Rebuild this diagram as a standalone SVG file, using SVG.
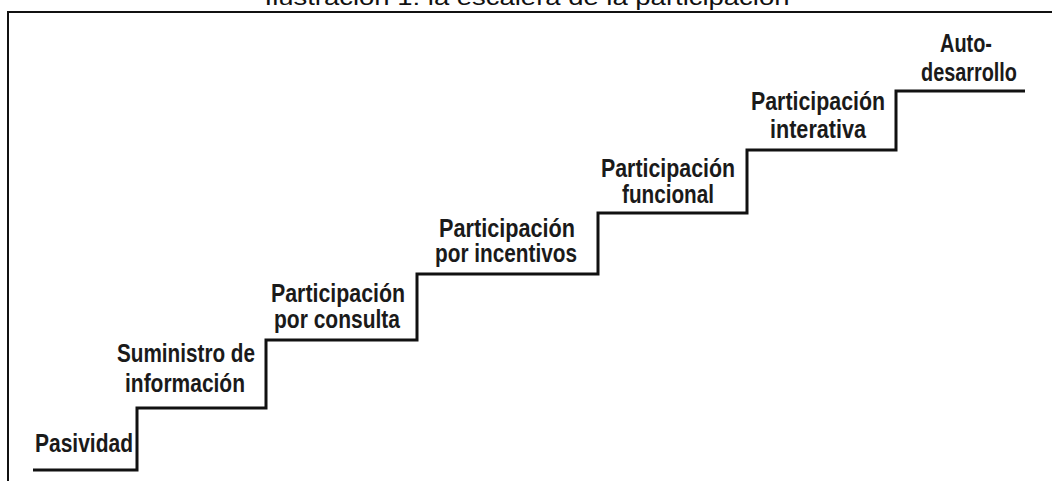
<svg xmlns="http://www.w3.org/2000/svg" width="1052" height="481" viewBox="0 0 1052 481">
<style>
.lbl{font-family:"Liberation Sans Narrow","Arial Narrow","Liberation Sans",Arial,sans-serif;font-weight:bold;font-size:25px;fill:#1a1a1a;text-anchor:middle}
.title{font-family:"Liberation Sans",Arial,sans-serif;font-size:22px;fill:#111;text-anchor:middle}
.stair{fill:none;stroke:#111;stroke-width:3;stroke-linejoin:miter}
.frame{fill:none;stroke:#111;stroke-width:2}
</style>
<rect width="1052" height="481" fill="#fff"/>
<text class="title" x="527" y="5" textLength="525" lengthAdjust="spacingAndGlyphs">Ilustración 1: la escalera de la participación</text>
<path class="frame" d="M8,481 V12 H1052"/>
<g id="connectors">
<path class="stair" d="M33,470 H137 V408 H266 V340 H417 V274 H598 V213 H747 V150 H896 V91 H1025"/>
</g>
<g id="n1"><text class="lbl" x="84" y="452" textLength="98" lengthAdjust="spacingAndGlyphs">Pasividad</text></g>
<g id="n2"><text class="lbl" x="186" y="362" textLength="138" lengthAdjust="spacingAndGlyphs">Suministro de</text><text class="lbl" x="185" y="392" textLength="120" lengthAdjust="spacingAndGlyphs">información</text></g>
<g id="n3"><text class="lbl" x="338" y="302" textLength="134" lengthAdjust="spacingAndGlyphs">Participación</text><text class="lbl" x="337" y="328" textLength="126" lengthAdjust="spacingAndGlyphs">por consulta</text></g>
<g id="n4"><text class="lbl" x="507" y="237" textLength="136" lengthAdjust="spacingAndGlyphs">Participación</text><text class="lbl" x="506" y="262" textLength="142" lengthAdjust="spacingAndGlyphs">por incentivos</text></g>
<g id="n5"><text class="lbl" x="668" y="177" textLength="134" lengthAdjust="spacingAndGlyphs">Participación</text><text class="lbl" x="668" y="203" textLength="92" lengthAdjust="spacingAndGlyphs">funcional</text></g>
<g id="n6"><text class="lbl" x="818" y="110" textLength="134" lengthAdjust="spacingAndGlyphs">Participación</text><text class="lbl" x="818" y="138" textLength="96" lengthAdjust="spacingAndGlyphs">interativa</text></g>
<g id="n7"><text class="lbl" x="966" y="52" textLength="52" lengthAdjust="spacingAndGlyphs">Auto-</text><text class="lbl" x="969" y="81" textLength="96" lengthAdjust="spacingAndGlyphs">desarrollo</text></g>
</svg>
